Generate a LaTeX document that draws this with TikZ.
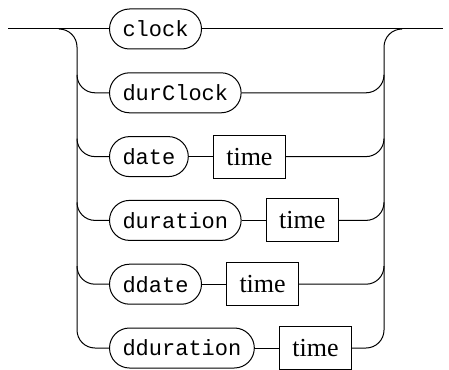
\documentclass[tikz,border=0pt]{standalone}
\usepackage{fontspec}
\setmainfont{Liberation Serif}
\setmonofont{Liberation Mono}
\usetikzlibrary{positioning,calc}
\tikzset{
  term/.style={draw=black,rounded corners=10pt,minimum height=20pt,inner xsep=6.5pt,inner ysep=0pt,anchor=west,font=\ttfamily\fontsize{11}{13}\selectfont},
  nonterm/.style={draw=black,minimum height=21.5pt,inner xsep=6.5pt,inner ysep=0pt,font=\fontsize{13}{15}\selectfont},
  rail/.style={rounded corners=9pt}
}
\begin{document}
\begin{tikzpicture}[x=0.5pt,y=-0.5pt,line width=0.5pt]
  \useasboundingbox (0,0) rectangle (449,369);
  \coordinate (start) at (8,29);
  \coordinate (finish) at (443,29);
  \coordinate (lsplit) at (77,29);
  \coordinate (rjoin) at (384,29);
  \node[term] (clock) at (109,29) {clock};
  \node[term] (durclock) at (109,92.8) {durClock};
  \node[term] (date) at (109,156.6) {date};
  \node[term] (duration) at (109,220.4) {duration};
  \node[term] (ddate) at (109,284.2) {ddate};
  \node[term] (dduration) at (109,348) {dduration};
  \node[nonterm,right=12pt of date] (time1) {time};
  \node[nonterm,right=12pt of duration] (time2) {time};
  \node[nonterm,right=12pt of ddate] (time3) {time};
  \node[nonterm,right=12pt of dduration] (time4) {time};
  % main line
  \draw (start) -- (clock);
  \draw (clock) -- (finish);
  % left side
  \draw[rail] ($(lsplit)+(-18,0)$) -- (lsplit) |- (dduration.west);
  \foreach \t in {durclock,date,duration,ddate}
    \draw[rail] ($(lsplit |- \t.west)+(0,-18)$) |- (\t.west);
  % middle
  \draw (date) -- (time1);
  \draw (duration) -- (time2);
  \draw (ddate) -- (time3);
  \draw (dduration) -- (time4);
  % right side
  \draw[rail] (time4.east) -| (rjoin) -- ($(rjoin)+(18,0)$);
  \foreach \t in {durclock,time1,time2,time3}
    \draw[rail] (\t.east) -| ($(rjoin |- \t.east)+(0,-18)$);
\end{tikzpicture}
\end{document}
